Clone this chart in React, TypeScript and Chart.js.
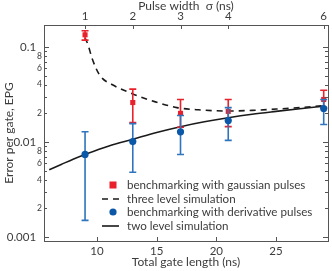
import React, { useEffect, useRef } from "react";
import { Chart, registerables } from "chart.js";
Chart.register(...registerables);

// Data
const gateLengths = [9, 13, 17, 21, 29];
const sigmaLabels = ["1", "2", "3", "4", "6"];
const gaussEPG = [0.134, 0.026, 0.02, 0.021, 0.028];
const gaussLow = [0.118, 0.016, 0.0143, 0.0145, 0.023];
const gaussHigh = [0.148, 0.036, 0.028, 0.028, 0.035];
const derivEPG = [0.0074, 0.0101, 0.0128, 0.0168, 0.0225];
const derivLow = [0.0015, 0.0048, 0.0074, 0.0104, 0.0153];
const derivHigh = [0.0128, 0.0156, 0.019, 0.023, 0.028];
const threeLevelX = [9, 9.25, 9.6, 10.25, 11.3, 12.5, 13.9, 15.3, 16.7, 18.5, 21, 23, 25, 27, 29];
const threeLevelY = [0.125, 0.105, 0.075, 0.05, 0.04, 0.034, 0.029, 0.0255, 0.023, 0.0218, 0.0212, 0.0215, 0.0222, 0.023, 0.0242];
const twoLevelX = [6, 7, 8, 9, 11, 13, 15, 17, 19, 21, 23, 25, 27, 29];
const twoLevelY = [0.0051, 0.0058, 0.0066, 0.0074, 0.0091, 0.0107, 0.0126, 0.0145, 0.0163, 0.018, 0.0196, 0.021, 0.0224, 0.0238];
const xTickValues = [10, 15, 20, 25];
const yMajorLabels = ["0.001", "0.01", "0.1"];
const yMinorLabelled = [2, 4, 6, 8];
const legendLabels = [
  "benchmarking with gaussian pulses",
  "three level simulation",
  "benchmarking with derivative pulses",
  "two level simulation",
];

const X_MIN = 5.56;
const X_MAX = 29.36;
const Y_MIN = 0.00091;
const Y_MAX = 0.17;

const RED = "#e8212b";
const BLUE = "#0b58a8";
const BLUE_BAR = "#2f74bd";
const TEXT = "#3c3c3c";
const AXIS = "#555555";
const FONT = "Lato, 'Open Sans', sans-serif";

function yTickValues(): number[] {
  const out: number[] = [];
  for (let d = -3; d <= -1; d++) {
    for (let m = 1; m <= 9; m++) {
      const v = m * Math.pow(10, d);
      if (v >= Y_MIN && v <= Y_MAX) out.push(+v.toPrecision(3));
    }
  }
  return out;
}

function mantissa(v: number) {
  const e = Math.floor(Math.log10(v) + 1e-9);
  return Math.round(v / Math.pow(10, e));
}

const errorBarPlugin = {
  id: "errorBars",
  beforeDatasetDraw(chart: any, args: any) {
    const ds = chart.data.datasets[args.index];
    if (!ds.errLow) return;
    const { ctx, scales } = chart;
    ctx.save();
    ctx.strokeStyle = ds.errColor;
    ctx.lineWidth = 1.6;
    ds.data.forEach((p: any, i: number) => {
      const x = scales.x.getPixelForValue(p.x);
      const y1 = scales.y.getPixelForValue(ds.errLow[i]);
      const y2 = scales.y.getPixelForValue(ds.errHigh[i]);
      ctx.beginPath();
      ctx.moveTo(x, y1);
      ctx.lineTo(x, y2);
      ctx.moveTo(x - 3.5, y1);
      ctx.lineTo(x + 3.5, y1);
      ctx.moveTo(x - 3.5, y2);
      ctx.lineTo(x + 3.5, y2);
      ctx.stroke();
    });
    ctx.restore();
  },
};

const framePlugin = {
  id: "frame",
  afterDraw(chart: any) {
    const { ctx, chartArea: a, scales } = chart;
    ctx.save();
    ctx.strokeStyle = AXIS;
    ctx.lineWidth = 1;
    ctx.strokeRect(Math.round(a.left) + 0.5, Math.round(a.top) + 0.5, Math.round(a.right - a.left), Math.round(a.bottom - a.top));
    ctx.beginPath();
    yTickValues().forEach((v) => {
      const y = Math.round(scales.y.getPixelForValue(v)) + 0.5;
      const len = mantissa(v) === 1 ? 5 : 3;
      ctx.moveTo(a.left, y);
      ctx.lineTo(a.left + len, y);
      ctx.moveTo(a.right, y);
      ctx.lineTo(a.right - len, y);
    });
    xTickValues.forEach((v) => {
      const x = Math.round(scales.x.getPixelForValue(v)) + 0.5;
      ctx.moveTo(x, a.bottom);
      ctx.lineTo(x, a.bottom - 4);
    });
    gateLengths.forEach((v) => {
      const x = Math.round(scales.x.getPixelForValue(v)) + 0.5;
      ctx.moveTo(x, a.top);
      ctx.lineTo(x, a.top + 4);
    });
    ctx.stroke();

    // legend
    const lx = a.left + 58;
    const tx = a.left + 83;
    const rows = [a.bottom - 56, a.bottom - 42, a.bottom - 29, a.bottom - 15];
    ctx.font = `11.6px ${FONT}`;
    ctx.fillStyle = TEXT;
    ctx.textBaseline = "middle";
    ctx.textAlign = "left";
    legendLabels.forEach((t, i) => ctx.fillText(t, tx, rows[i]));
    ctx.fillStyle = RED;
    ctx.fillRect(lx + 11 - 3.5, rows[0] - 3.5, 7, 7);
    ctx.fillStyle = BLUE;
    ctx.beginPath();
    ctx.arc(lx + 11, rows[2], 3.6, 0, Math.PI * 2);
    ctx.fill();
    ctx.strokeStyle = "#1a1a1a";
    ctx.lineWidth = 1.6;
    ctx.setLineDash([6, 5]);
    ctx.beginPath();
    ctx.moveTo(lx, rows[1]);
    ctx.lineTo(lx + 17, rows[1]);
    ctx.stroke();
    ctx.setLineDash([]);
    ctx.beginPath();
    ctx.moveTo(lx, rows[3]);
    ctx.lineTo(lx + 17, rows[3]);
    ctx.stroke();
    ctx.restore();
  },
};

export default function App() {
  const ref = useRef<HTMLCanvasElement>(null);
  useEffect(() => {
    document.body.style.margin = "0";
    const chart = new Chart(ref.current as HTMLCanvasElement, {
      type: "scatter",
      data: {
        datasets: [
          {
            label: legendLabels[2],
            data: gateLengths.map((x, i) => ({ x, y: derivEPG[i] })),
            backgroundColor: BLUE,
            borderColor: BLUE,
            pointStyle: "circle",
            pointRadius: 3.6,
            pointBorderWidth: 0,
            showLine: false,
            order: 0,
            errLow: derivLow,
            errHigh: derivHigh,
            errColor: BLUE_BAR,
          } as any,
          {
            label: legendLabels[0],
            data: gateLengths.map((x, i) => ({ x, y: gaussEPG[i] })),
            backgroundColor: RED,
            borderColor: RED,
            pointStyle: "rect",
            pointRadius: 3.6,
            pointBorderWidth: 0,
            showLine: false,
            order: 1,
            errLow: gaussLow,
            errHigh: gaussHigh,
            errColor: RED,
          } as any,
          {
            label: legendLabels[1],
            data: threeLevelX.map((x, i) => ({ x, y: threeLevelY[i] })),
            borderColor: "#1a1a1a",
            borderWidth: 1.6,
            borderDash: [6, 5],
            pointRadius: 0,
            showLine: true,
            cubicInterpolationMode: "monotone",
            order: 2,
          } as any,
          {
            label: legendLabels[3],
            data: twoLevelX.map((x, i) => ({ x, y: twoLevelY[i] })),
            borderColor: "#1a1a1a",
            borderWidth: 1.6,
            pointRadius: 0,
            showLine: true,
            cubicInterpolationMode: "monotone",
            order: 3,
          } as any,
        ],
      },
      options: {
        animation: false,
        responsive: false,
        maintainAspectRatio: false,
        layout: { padding: { left: 0, right: 4, top: 0, bottom: 0 } },
        plugins: { legend: { display: false }, tooltip: { enabled: false } },
        scales: {
          x: {
            type: "linear",
            position: "bottom",
            min: X_MIN,
            max: X_MAX,
            grid: { display: false, drawTicks: false },
            border: { display: false },
            afterBuildTicks: (s: any) => {
              s.ticks = xTickValues.map((v) => ({ value: v }));
            },
            afterFit: (s: any) => {
              s.height = 30;
            },
            ticks: { color: TEXT, font: { family: FONT, size: 11.5 }, padding: 3, maxRotation: 0 },
            title: {
              display: true,
              text: "Total gate length (ns)",
              color: TEXT,
              font: { family: FONT, size: 12 },
              padding: { top: 0, bottom: 1.5 },
            },
          },
          x2: {
            type: "linear",
            position: "top",
            min: X_MIN,
            max: X_MAX,
            grid: { display: false, drawTicks: false },
            border: { display: false },
            afterBuildTicks: (s: any) => {
              s.ticks = gateLengths.map((v) => ({ value: v }));
            },
            afterFit: (s: any) => {
              s.height = 25;
            },
            ticks: {
              color: TEXT,
              font: { family: FONT, size: 11.5 },
              padding: 2,
              maxRotation: 0,
              callback: (v: any) => sigmaLabels[gateLengths.indexOf(Number(v))] ?? "",
            },
            title: {
              display: true,
              text: "Pulse width  σ (ns)",
              color: TEXT,
              font: { family: FONT, size: 12 },
              padding: { top: -1, bottom: 0 },
            },
          },
          y: {
            type: "logarithmic",
            min: Y_MIN,
            max: Y_MAX,
            grid: { display: false, drawTicks: false },
            border: { display: false },
            afterBuildTicks: (s: any) => {
              s.ticks = yTickValues().map((v) => ({ value: v }));
            },
            afterFit: (s: any) => {
              s.width = 44;
            },
            ticks: {
              color: TEXT,
              padding: 2,
              autoSkip: false,
              font: (c: any) => ({ family: FONT, size: mantissa(c.tick.value) === 1 ? 11.5 : 8.5 }),
              callback: (v: any) => {
                const m = mantissa(Number(v));
                if (m === 1) {
                  const e = Math.round(Math.log10(Number(v)));
                  return yMajorLabels[e + 3] + "  ";
                }
                return yMinorLabelled.includes(m) ? String(m) : "";
              },
            },
            title: {
              display: true,
              text: "Error per gate, EPG",
              color: TEXT,
              font: { family: FONT, size: 12 },
              padding: { top: 1.5, bottom: 0 },
            },
          },
        },
      } as any,
      plugins: [errorBarPlugin, framePlugin],
    });
    return () => chart.destroy();
  }, []);
  return (
    <div style={{ width: 332, height: 271 }}>
      <canvas ref={ref} width={332} height={271} style={{ display: "block" }} />
    </div>
  );
}
